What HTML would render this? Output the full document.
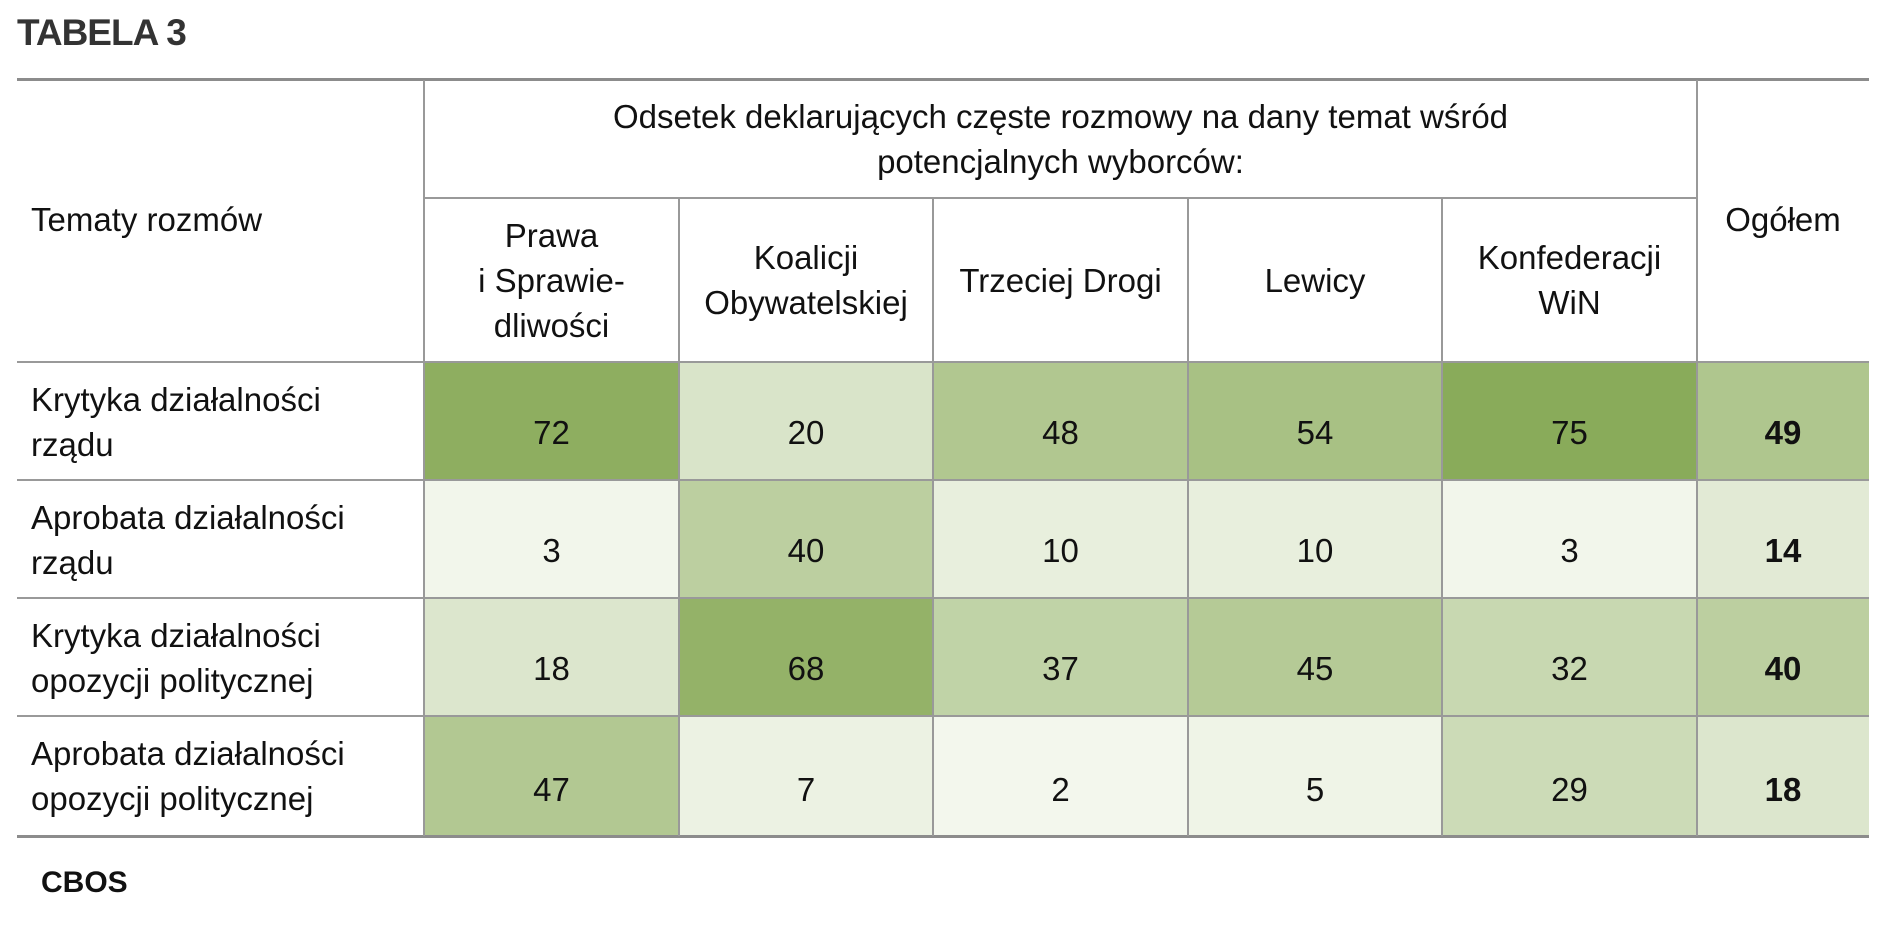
<!DOCTYPE html>
<html><head><meta charset="utf-8">
<style>
body{margin:0;width:1891px;height:925px;background:#fff;font-family:"Liberation Sans",sans-serif;color:#111;position:relative;overflow:hidden}
.a{position:absolute;box-sizing:border-box}
.t{position:absolute;font-size:33px;line-height:45px;text-align:center}
</style></head><body>
<div class="a" style="left:17px;top:12px;font-size:37px;font-weight:bold;color:#333;letter-spacing:-1px">TABELA 3</div>
<div id="tbl"></div>
<div class="a" style="left:41px;top:866px;font-size:30px;font-weight:bold">CBOS</div>
<script>
const topics=["Krytyka działalności<br>rządu","Aprobata działalności<br>rządu","Krytyka działalności<br>opozycji politycznej","Aprobata działalności<br>opozycji politycznej"];
const parties=["Prawa<br>i Sprawie-<br>dliwości","Koalicji<br>Obywatelskiej","Trzeciej Drogi","Lewicy","Konfederacji<br>WiN"];
const pis=[72,3,18,47];
const ko=[20,40,68,7];
const td=[48,10,37,2];
const lew=[54,10,45,5];
const konf=[75,3,32,29];
const total=[49,14,40,18];
const series=[pis,ko,td,lew,konf,total];
const colX=[424,679,933,1188,1442,1697,1869];
const rowY=[362,480,598,716,837];
const T=document.getElementById('tbl');
function add(css,html,name,cls){const d=document.createElement('div');d.className=cls||'a';d.style.cssText=css;if(html)d.innerHTML=html;


T.appendChild(d);return d;}
function col(v){const a=[246,249,241],b=[136,170,88];const t=Math.min(v/76,1);return 'rgb('+a.map((x,i)=>Math.round(x+(b[i]-x)*t)).join(',')+')';}
// cells
series.forEach((s,c)=>{s.forEach((v,r)=>{
 add(`left:${colX[c]}px;top:${rowY[r]}px;width:${colX[c+1]-colX[c]}px;height:${rowY[r+1]-rowY[r]}px;background:${col(v)}`,'', 'cell-bg');
 add(`left:${colX[c]}px;top:${rowY[r+1]-70}px;width:${colX[c+1]-colX[c]}px;${c==5?'font-weight:bold;':''}`,String(v),'cell-value','t');
});});
// row labels
topics.forEach((tx,r)=>add(`left:31px;top:${rowY[r]+15}px;text-align:left`,tx,'row-label','t'));
// headers
add(`left:17px;top:197px;text-align:left;left:31px`,'Tematy rozmów','stub-header','t');
add(`left:${colX[0]}px;top:94px;width:${colX[5]-colX[0]}px`,'Odsetek deklarujących częste rozmowy na dany temat wśród<br>potencjalnych wyborców:','group-header','t');
add(`left:${colX[5]}px;top:197px;width:${colX[6]-colX[5]}px`,'Ogółem','total-header','t');
parties.forEach((p,c)=>{const n=p.split('<br>').length;const h=n*45;
 add(`left:${colX[c]}px;top:${(198+362)/2-h/2}px;width:${colX[c+1]-colX[c]}px`,p,'party-header','t');});
// lines
const g='#8c8c8c';
add(`left:17px;top:78px;width:1852px;height:3px;background:${g}`,'','top-rule');
add(`left:17px;top:835px;width:1852px;height:3px;background:${g}`,'','bottom-rule');
add(`left:${colX[0]}px;top:197px;width:${colX[5]-colX[0]}px;height:2px;background:#999`,'','subheader-rule');
for(let r=0;r<4;r++)add(`left:17px;top:${rowY[r]-1}px;width:1852px;height:2px;background:#999`,'','row-rule');
colX.slice(0,6).forEach((x,i)=>{const top=(i==0||i==5)?80:198;add(`left:${x-1}px;top:${top}px;width:2px;height:${836-top}px;background:#999`,'','col-rule');});
</script>
</body></html>
